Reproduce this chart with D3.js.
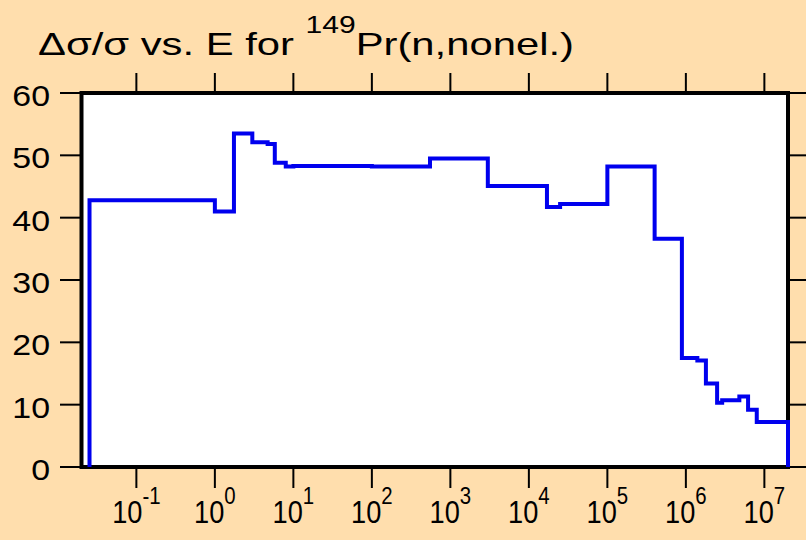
<!DOCTYPE html>
<html>
<head>
<meta charset="utf-8">
<script src="https://cdn.jsdelivr.net/npm/d3@7"></script>
<style>
  html, body { margin: 0; padding: 0; background: #FFDEAD; }
  svg { display: block; }
  text { font-family: "Liberation Sans", Arial, sans-serif; fill: #000; }
</style>
</head>
<body>
<svg id="chart" width="806" height="540"></svg>
<script>
// Group boundaries (eV) and relative uncertainty (%) in each group
const energyEdges = [0.0253, 1.0, 1.75, 3.0, 4.7, 5.8, 8.0, 10, 100, 550, 3000,
  1.7e4, 2.5e4, 1e5, 4e5, 8.9e5, 1.4e6, 1.8e6, 2.5e6, 2.9e6, 4.8e6, 6.2e6, 8e6, 2e7];
const relUncertainty = [42.8, 41.0, 53.5, 52.1, 51.8, 48.8, 48.2, 48.3, 48.2, 49.5, 45.1,
  41.7, 42.2, 48.2, 36.6, 17.5, 17.1, 13.4, 10.3, 10.7, 11.3, 9.2, 7.2];

const yTickValues = [0, 10, 20, 30, 40, 50, 60];
const xTickExponents = [-1, 0, 1, 2, 3, 4, 5, 6, 7];
const titleMain = "\u0394\u03c3/\u03c3 vs. E for ";
const titleSup = "149";
const titleTail = "Pr(n,nonel.)";

const W = 806, H = 540;
const plot = { left: 81.5, right: 788, top: 93, bottom: 467 };

const svg = d3.select("#chart");
svg.append("rect").attr("width", W).attr("height", H).attr("fill", "#FFDEAD");

const x = d3.scaleLog().domain([0.02, 2e7]).range([plot.left, plot.right]);
const y = d3.scaleLinear().domain([0, 60]).range([plot.bottom, plot.top]);

// plotting area
svg.append("rect")
  .attr("x", plot.left).attr("y", plot.top)
  .attr("width", plot.right - plot.left).attr("height", plot.bottom - plot.top)
  .attr("fill", "#fff");

// outward ticks on all four sides
const xTicks = xTickExponents.map(e => Math.pow(10, e));
const tickG = svg.append("g").attr("stroke", "#000").attr("stroke-width", 2);
tickG.selectAll(".tl").data(yTickValues).join("line")
  .attr("x1", 60).attr("x2", plot.left).attr("y1", d => y(d)).attr("y2", d => y(d));
tickG.selectAll(".tr").data(yTickValues).join("line")
  .attr("x1", plot.right).attr("x2", W).attr("y1", d => y(d)).attr("y2", d => y(d));
tickG.selectAll(".tt").data(xTicks).join("line")
  .attr("x1", d => x(d)).attr("x2", d => x(d)).attr("y1", 73).attr("y2", plot.top);
tickG.selectAll(".tb").data(xTicks).join("line")
  .attr("x1", d => x(d)).attr("x2", d => x(d)).attr("y1", plot.bottom).attr("y2", 488);

// frame
svg.append("rect")
  .attr("x", plot.left).attr("y", plot.top)
  .attr("width", plot.right - plot.left).attr("height", plot.bottom - plot.top)
  .attr("fill", "none").attr("stroke", "#000").attr("stroke-width", 4);

// y labels
yTickValues.forEach(v => {
  svg.append("g")
    .attr("transform", `translate(50,${y(v) + 13}) scale(1.15,1)`)
    .append("text")
    .attr("text-anchor", "end")
    .attr("font-size", 29.5)
    .text(v);
});

// x labels: 10^n
xTickExponents.forEach((e, i) => {
  const t = svg.append("g")
    .attr("transform", `translate(${x(xTicks[i])},523) scale(0.85,1)`)
    .append("text")
    .attr("text-anchor", "middle");
  t.append("tspan").attr("font-size", 32).text("10");
  t.append("tspan").attr("font-size", 24).attr("dy", -19).text(String(e));
});

// step histogram
const pts = [[energyEdges[0], 0]];
relUncertainty.forEach((v, i) => pts.push([energyEdges[i], v]));
pts.push([energyEdges[energyEdges.length - 1], relUncertainty[relUncertainty.length - 1]]);
pts.push([energyEdges[energyEdges.length - 1], 0]);

const line = d3.line()
  .x(d => x(d[0])).y(d => y(d[1]))
  .curve(d3.curveStepAfter);

svg.append("path")
  .datum(pts)
  .attr("d", line)
  .attr("fill", "none")
  .attr("stroke", "#0000ee")
  .attr("stroke-width", 4)
  .attr("stroke-linejoin", "miter");

// title
const title = svg.append("text")
  .attr("x", 38).attr("y", 55)
  .attr("font-size", 32)
  .attr("textLength", 536)
  .attr("lengthAdjust", "spacingAndGlyphs");
title.append("tspan").text(titleMain);
title.append("tspan").attr("font-size", 23).attr("dy", -22).text(titleSup);
title.append("tspan").attr("dy", 22).text(titleTail);
</script>
</body>
</html>
